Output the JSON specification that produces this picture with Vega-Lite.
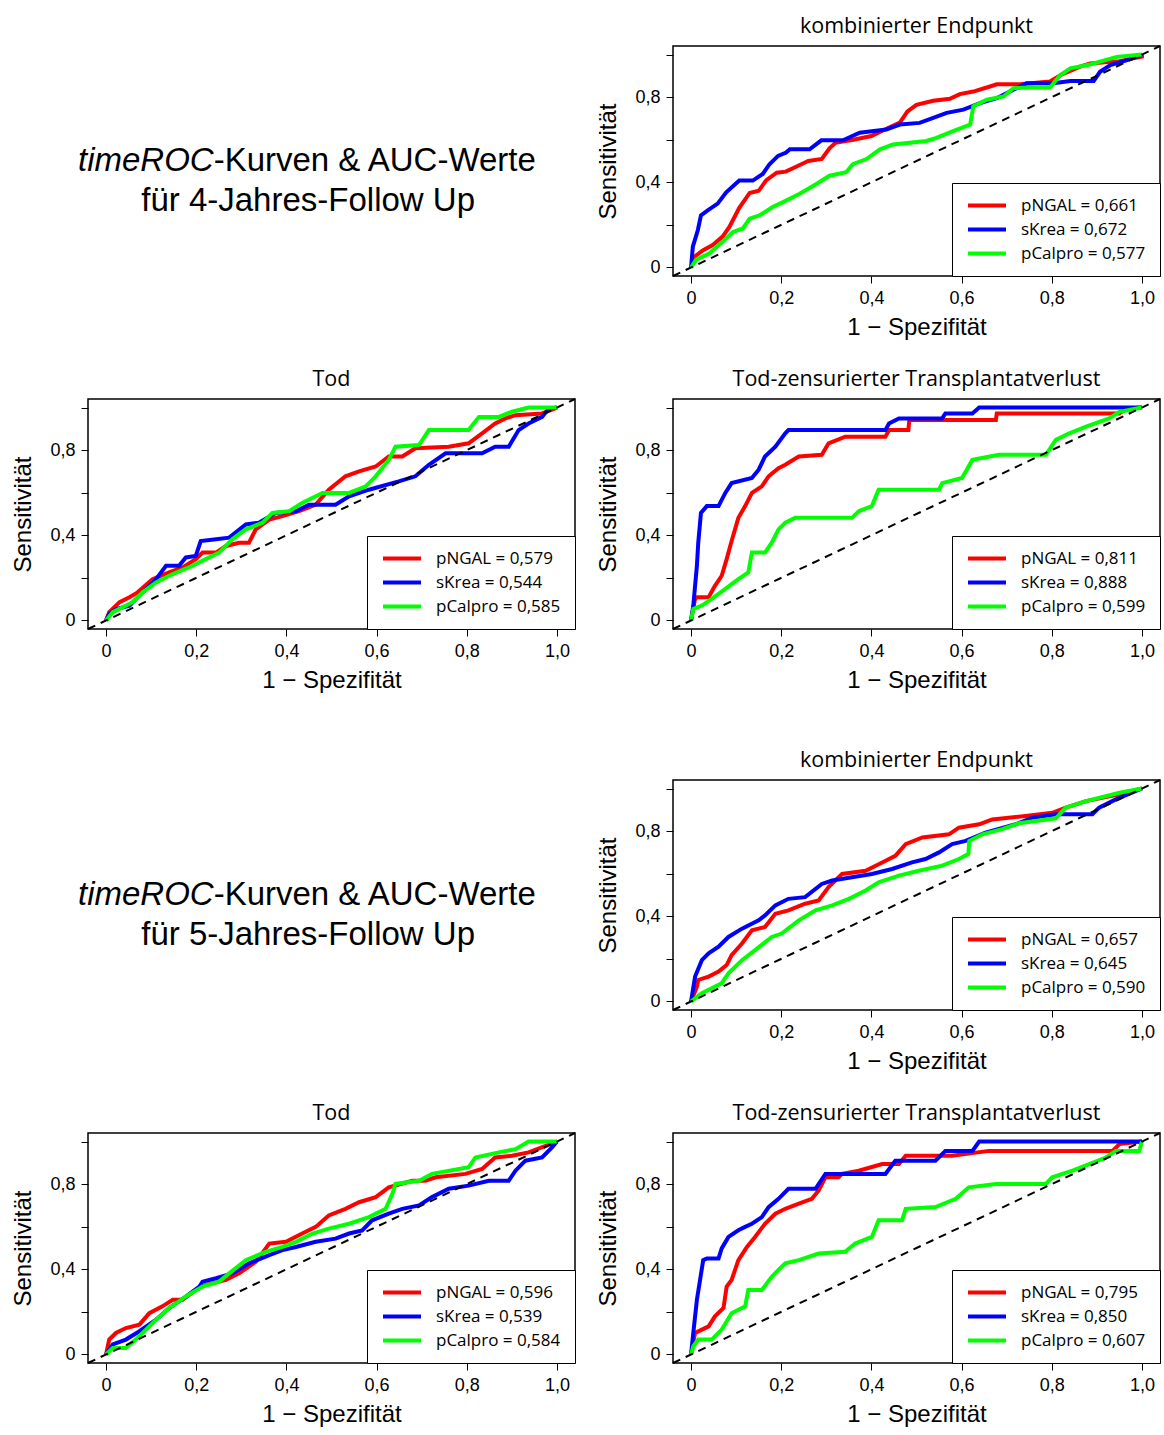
{
"$schema": "https://vega.github.io/schema/vega-lite/v6.json",
"background": "white",
"padding": {"left": 11, "top": 14, "right": 0, "bottom": 0},
"columns": 2,
"spacing": {"row": 27, "column": 19},
"align": "each",
"resolve": {"scale": {"color": "independent", "x": "independent", "y": "independent"}, "legend": {"color": "independent"}},
"config": {
  "view": {"stroke": "black", "strokeWidth": 1.5},
  "axis": {"grid": false, "domain": false, "tickColor": "black", "tickSize": 7, "tickWidth": 1, "labelFont": "Liberation Sans", "labelFontSize": 18, "labelColor": "black", "titleFont": "Liberation Sans", "titleFontSize": 24, "titleFontWeight": "normal", "titleColor": "black", "labelFlush": false, "labelOverlap": false},
  "axisX": {"labelPadding": 6, "titlePadding": 8, "labelAngle": 0},
  "axisY": {"labelPadding": 6, "titlePadding": 14, "labelAngle": 0},
  "legend": {"orient": "bottom-right", "offset": 0, "strokeColor": "black", "fillColor": "white", "padding": 14, "symbolType": "stroke", "symbolSize": 1444, "symbolStrokeWidth": 4, "labelFont": "Open Sans", "labelFontSize": 17, "labelColor": "black", "rowPadding": 6, "labelOffset": 13, "labelLimit": 300, "clipHeight": 17},
  "title": {"font": "Open Sans", "fontSize": 21.5, "fontWeight": "normal", "color": "black", "offset": 8, "anchor": "middle"}
},
"datasets": {
"komb4": [
{"s":"pNGAL = 0,661","x":0,"y":0},{"s":"pNGAL = 0,661","x":0.007,"y":0.05},{"s":"pNGAL = 0,661","x":0.026,"y":0.08},{"s":"pNGAL = 0,661","x":0.048,"y":0.105},{"s":"pNGAL = 0,661","x":0.07,"y":0.145},{"s":"pNGAL = 0,661","x":0.085,"y":0.19},{"s":"pNGAL = 0,661","x":0.107,"y":0.28},{"s":"pNGAL = 0,661","x":0.13,"y":0.35},{"s":"pNGAL = 0,661","x":0.15,"y":0.36},{"s":"pNGAL = 0,661","x":0.167,"y":0.41},{"s":"pNGAL = 0,661","x":0.19,"y":0.445},{"s":"pNGAL = 0,661","x":0.21,"y":0.45},{"s":"pNGAL = 0,661","x":0.24,"y":0.48},{"s":"pNGAL = 0,661","x":0.26,"y":0.5},{"s":"pNGAL = 0,661","x":0.29,"y":0.51},{"s":"pNGAL = 0,661","x":0.307,"y":0.56},{"s":"pNGAL = 0,661","x":0.32,"y":0.585},{"s":"pNGAL = 0,661","x":0.36,"y":0.6},{"s":"pNGAL = 0,661","x":0.4,"y":0.617},{"s":"pNGAL = 0,661","x":0.43,"y":0.648},{"s":"pNGAL = 0,661","x":0.463,"y":0.68},{"s":"pNGAL = 0,661","x":0.48,"y":0.733},{"s":"pNGAL = 0,661","x":0.5,"y":0.764},{"s":"pNGAL = 0,661","x":0.537,"y":0.783},{"s":"pNGAL = 0,661","x":0.574,"y":0.792},{"s":"pNGAL = 0,661","x":0.596,"y":0.814},{"s":"pNGAL = 0,661","x":0.626,"y":0.826},{"s":"pNGAL = 0,661","x":0.663,"y":0.85},{"s":"pNGAL = 0,661","x":0.678,"y":0.86},{"s":"pNGAL = 0,661","x":0.73,"y":0.86},{"s":"pNGAL = 0,661","x":0.796,"y":0.873},{"s":"pNGAL = 0,661","x":0.82,"y":0.904},{"s":"pNGAL = 0,661","x":0.863,"y":0.943},{"s":"pNGAL = 0,661","x":0.885,"y":0.958},{"s":"pNGAL = 0,661","x":0.95,"y":0.969},{"s":"pNGAL = 0,661","x":1,"y":0.99},{"s":"pNGAL = 0,661","x":1,"y":1},
{"s":"sKrea = 0,672","x":0,"y":0},{"s":"sKrea = 0,672","x":0.004,"y":0.098},{"s":"sKrea = 0,672","x":0.015,"y":0.175},{"s":"sKrea = 0,672","x":0.022,"y":0.245},{"s":"sKrea = 0,672","x":0.037,"y":0.268},{"s":"sKrea = 0,672","x":0.059,"y":0.3},{"s":"sKrea = 0,672","x":0.078,"y":0.353},{"s":"sKrea = 0,672","x":0.107,"y":0.408},{"s":"sKrea = 0,672","x":0.137,"y":0.408},{"s":"sKrea = 0,672","x":0.159,"y":0.439},{"s":"sKrea = 0,672","x":0.174,"y":0.485},{"s":"sKrea = 0,672","x":0.193,"y":0.524},{"s":"sKrea = 0,672","x":0.211,"y":0.54},{"s":"sKrea = 0,672","x":0.219,"y":0.555},{"s":"sKrea = 0,672","x":0.263,"y":0.555},{"s":"sKrea = 0,672","x":0.289,"y":0.597},{"s":"sKrea = 0,672","x":0.337,"y":0.597},{"s":"sKrea = 0,672","x":0.374,"y":0.633},{"s":"sKrea = 0,672","x":0.433,"y":0.648},{"s":"sKrea = 0,672","x":0.463,"y":0.671},{"s":"sKrea = 0,672","x":0.507,"y":0.679},{"s":"sKrea = 0,672","x":0.537,"y":0.702},{"s":"sKrea = 0,672","x":0.567,"y":0.726},{"s":"sKrea = 0,672","x":0.604,"y":0.741},{"s":"sKrea = 0,672","x":0.641,"y":0.772},{"s":"sKrea = 0,672","x":0.678,"y":0.795},{"s":"sKrea = 0,672","x":0.707,"y":0.826},{"s":"sKrea = 0,672","x":0.744,"y":0.865},{"s":"sKrea = 0,672","x":0.804,"y":0.865},{"s":"sKrea = 0,672","x":0.841,"y":0.876},{"s":"sKrea = 0,672","x":0.893,"y":0.876},{"s":"sKrea = 0,672","x":0.907,"y":0.919},{"s":"sKrea = 0,672","x":0.93,"y":0.95},{"s":"sKrea = 0,672","x":0.967,"y":0.974},{"s":"sKrea = 0,672","x":1,"y":1},
{"s":"pCalpro = 0,577","x":0,"y":0},{"s":"pCalpro = 0,577","x":0.011,"y":0.036},{"s":"pCalpro = 0,577","x":0.041,"y":0.067},{"s":"pCalpro = 0,577","x":0.07,"y":0.121},{"s":"pCalpro = 0,577","x":0.093,"y":0.167},{"s":"pCalpro = 0,577","x":0.115,"y":0.183},{"s":"pCalpro = 0,577","x":0.13,"y":0.229},{"s":"pCalpro = 0,577","x":0.152,"y":0.245},{"s":"pCalpro = 0,577","x":0.181,"y":0.284},{"s":"pCalpro = 0,577","x":0.204,"y":0.307},{"s":"pCalpro = 0,577","x":0.241,"y":0.346},{"s":"pCalpro = 0,577","x":0.278,"y":0.392},{"s":"pCalpro = 0,577","x":0.307,"y":0.431},{"s":"pCalpro = 0,577","x":0.344,"y":0.447},{"s":"pCalpro = 0,577","x":0.359,"y":0.485},{"s":"pCalpro = 0,577","x":0.389,"y":0.509},{"s":"pCalpro = 0,577","x":0.419,"y":0.555},{"s":"pCalpro = 0,577","x":0.448,"y":0.578},{"s":"pCalpro = 0,577","x":0.485,"y":0.586},{"s":"pCalpro = 0,577","x":0.522,"y":0.594},{"s":"pCalpro = 0,577","x":0.544,"y":0.609},{"s":"pCalpro = 0,577","x":0.581,"y":0.64},{"s":"pCalpro = 0,577","x":0.619,"y":0.671},{"s":"pCalpro = 0,577","x":0.626,"y":0.757},{"s":"pCalpro = 0,577","x":0.656,"y":0.788},{"s":"pCalpro = 0,577","x":0.693,"y":0.803},{"s":"pCalpro = 0,577","x":0.715,"y":0.842},{"s":"pCalpro = 0,577","x":0.752,"y":0.845},{"s":"pCalpro = 0,577","x":0.796,"y":0.845},{"s":"pCalpro = 0,577","x":0.819,"y":0.904},{"s":"pCalpro = 0,577","x":0.841,"y":0.935},{"s":"pCalpro = 0,577","x":0.885,"y":0.953},{"s":"pCalpro = 0,577","x":0.944,"y":0.989},{"s":"pCalpro = 0,577","x":1,"y":1}
],
"tod4": [
{"s":"pNGAL = 0,579","x":0,"y":0},{"s":"pNGAL = 0,579","x":0.007,"y":0.039},{"s":"pNGAL = 0,579","x":0.03,"y":0.086},{"s":"pNGAL = 0,579","x":0.052,"y":0.109},{"s":"pNGAL = 0,579","x":0.07,"y":0.132},{"s":"pNGAL = 0,579","x":0.103,"y":0.194},{"s":"pNGAL = 0,579","x":0.14,"y":0.226},{"s":"pNGAL = 0,579","x":0.17,"y":0.249},{"s":"pNGAL = 0,579","x":0.199,"y":0.288},{"s":"pNGAL = 0,579","x":0.214,"y":0.319},{"s":"pNGAL = 0,579","x":0.244,"y":0.319},{"s":"pNGAL = 0,579","x":0.266,"y":0.35},{"s":"pNGAL = 0,579","x":0.295,"y":0.365},{"s":"pNGAL = 0,579","x":0.317,"y":0.365},{"s":"pNGAL = 0,579","x":0.332,"y":0.428},{"s":"pNGAL = 0,579","x":0.362,"y":0.474},{"s":"pNGAL = 0,579","x":0.391,"y":0.49},{"s":"pNGAL = 0,579","x":0.428,"y":0.513},{"s":"pNGAL = 0,579","x":0.465,"y":0.544},{"s":"pNGAL = 0,579","x":0.494,"y":0.614},{"s":"pNGAL = 0,579","x":0.531,"y":0.677},{"s":"pNGAL = 0,579","x":0.561,"y":0.7},{"s":"pNGAL = 0,579","x":0.598,"y":0.723},{"s":"pNGAL = 0,579","x":0.627,"y":0.77},{"s":"pNGAL = 0,579","x":0.657,"y":0.77},{"s":"pNGAL = 0,579","x":0.686,"y":0.809},{"s":"pNGAL = 0,579","x":0.76,"y":0.816},{"s":"pNGAL = 0,579","x":0.804,"y":0.832},{"s":"pNGAL = 0,579","x":0.834,"y":0.879},{"s":"pNGAL = 0,579","x":0.863,"y":0.925},{"s":"pNGAL = 0,579","x":0.886,"y":0.949},{"s":"pNGAL = 0,579","x":0.908,"y":0.964},{"s":"pNGAL = 0,579","x":0.967,"y":0.972},{"s":"pNGAL = 0,579","x":1,"y":1},
{"s":"sKrea = 0,544","x":0,"y":0},{"s":"sKrea = 0,544","x":0.007,"y":0.031},{"s":"sKrea = 0,544","x":0.022,"y":0.054},{"s":"sKrea = 0,544","x":0.052,"y":0.07},{"s":"sKrea = 0,544","x":0.074,"y":0.117},{"s":"sKrea = 0,544","x":0.111,"y":0.194},{"s":"sKrea = 0,544","x":0.133,"y":0.257},{"s":"sKrea = 0,544","x":0.162,"y":0.257},{"s":"sKrea = 0,544","x":0.177,"y":0.296},{"s":"sKrea = 0,544","x":0.199,"y":0.303},{"s":"sKrea = 0,544","x":0.21,"y":0.373},{"s":"sKrea = 0,544","x":0.244,"y":0.381},{"s":"sKrea = 0,544","x":0.273,"y":0.389},{"s":"sKrea = 0,544","x":0.31,"y":0.451},{"s":"sKrea = 0,544","x":0.339,"y":0.459},{"s":"sKrea = 0,544","x":0.376,"y":0.505},{"s":"sKrea = 0,544","x":0.421,"y":0.513},{"s":"sKrea = 0,544","x":0.45,"y":0.544},{"s":"sKrea = 0,544","x":0.509,"y":0.544},{"s":"sKrea = 0,544","x":0.539,"y":0.583},{"s":"sKrea = 0,544","x":0.583,"y":0.614},{"s":"sKrea = 0,544","x":0.649,"y":0.653},{"s":"sKrea = 0,544","x":0.686,"y":0.677},{"s":"sKrea = 0,544","x":0.716,"y":0.731},{"s":"sKrea = 0,544","x":0.753,"y":0.785},{"s":"sKrea = 0,544","x":0.834,"y":0.785},{"s":"sKrea = 0,544","x":0.863,"y":0.816},{"s":"sKrea = 0,544","x":0.893,"y":0.816},{"s":"sKrea = 0,544","x":0.915,"y":0.894},{"s":"sKrea = 0,544","x":0.937,"y":0.925},{"s":"sKrea = 0,544","x":0.967,"y":0.956},{"s":"sKrea = 0,544","x":0.982,"y":0.995},{"s":"sKrea = 0,544","x":1,"y":1},
{"s":"pCalpro = 0,585","x":0,"y":0},{"s":"pCalpro = 0,585","x":0.015,"y":0.039},{"s":"pCalpro = 0,585","x":0.059,"y":0.086},{"s":"pCalpro = 0,585","x":0.081,"y":0.132},{"s":"pCalpro = 0,585","x":0.111,"y":0.179},{"s":"pCalpro = 0,585","x":0.148,"y":0.218},{"s":"pCalpro = 0,585","x":0.192,"y":0.257},{"s":"pCalpro = 0,585","x":0.221,"y":0.288},{"s":"pCalpro = 0,585","x":0.251,"y":0.319},{"s":"pCalpro = 0,585","x":0.28,"y":0.381},{"s":"pCalpro = 0,585","x":0.31,"y":0.428},{"s":"pCalpro = 0,585","x":0.347,"y":0.459},{"s":"pCalpro = 0,585","x":0.369,"y":0.505},{"s":"pCalpro = 0,585","x":0.406,"y":0.513},{"s":"pCalpro = 0,585","x":0.435,"y":0.552},{"s":"pCalpro = 0,585","x":0.48,"y":0.599},{"s":"pCalpro = 0,585","x":0.539,"y":0.599},{"s":"pCalpro = 0,585","x":0.576,"y":0.63},{"s":"pCalpro = 0,585","x":0.598,"y":0.677},{"s":"pCalpro = 0,585","x":0.627,"y":0.754},{"s":"pCalpro = 0,585","x":0.642,"y":0.816},{"s":"pCalpro = 0,585","x":0.694,"y":0.824},{"s":"pCalpro = 0,585","x":0.716,"y":0.894},{"s":"pCalpro = 0,585","x":0.804,"y":0.894},{"s":"pCalpro = 0,585","x":0.827,"y":0.956},{"s":"pCalpro = 0,585","x":0.871,"y":0.956},{"s":"pCalpro = 0,585","x":0.9,"y":0.98},{"s":"pCalpro = 0,585","x":0.937,"y":1},{"s":"pCalpro = 0,585","x":1,"y":1}
],
"tz4": [
{"s":"pNGAL = 0,811","x":0,"y":0},{"s":"pNGAL = 0,811","x":0.009,"y":0.101},{"s":"pNGAL = 0,811","x":0.013,"y":0.109},{"s":"pNGAL = 0,811","x":0.039,"y":0.109},{"s":"pNGAL = 0,811","x":0.053,"y":0.163},{"s":"pNGAL = 0,811","x":0.068,"y":0.21},{"s":"pNGAL = 0,811","x":0.079,"y":0.288},{"s":"pNGAL = 0,811","x":0.09,"y":0.373},{"s":"pNGAL = 0,811","x":0.105,"y":0.482},{"s":"pNGAL = 0,811","x":0.12,"y":0.537},{"s":"pNGAL = 0,811","x":0.135,"y":0.599},{"s":"pNGAL = 0,811","x":0.157,"y":0.63},{"s":"pNGAL = 0,811","x":0.172,"y":0.677},{"s":"pNGAL = 0,811","x":0.194,"y":0.715},{"s":"pNGAL = 0,811","x":0.209,"y":0.731},{"s":"pNGAL = 0,811","x":0.239,"y":0.77},{"s":"pNGAL = 0,811","x":0.29,"y":0.778},{"s":"pNGAL = 0,811","x":0.305,"y":0.832},{"s":"pNGAL = 0,811","x":0.342,"y":0.863},{"s":"pNGAL = 0,811","x":0.431,"y":0.863},{"s":"pNGAL = 0,811","x":0.439,"y":0.894},{"s":"pNGAL = 0,811","x":0.482,"y":0.894},{"s":"pNGAL = 0,811","x":0.484,"y":0.941},{"s":"pNGAL = 0,811","x":0.676,"y":0.941},{"s":"pNGAL = 0,811","x":0.678,"y":0.972},{"s":"pNGAL = 0,811","x":0.95,"y":0.972},{"s":"pNGAL = 0,811","x":0.964,"y":0.995},{"s":"pNGAL = 0,811","x":1,"y":1},
{"s":"sKrea = 0,888","x":0,"y":0},{"s":"sKrea = 0,888","x":0.005,"y":0.07},{"s":"sKrea = 0,888","x":0.013,"y":0.257},{"s":"sKrea = 0,888","x":0.016,"y":0.365},{"s":"sKrea = 0,888","x":0.022,"y":0.505},{"s":"sKrea = 0,888","x":0.035,"y":0.537},{"s":"sKrea = 0,888","x":0.061,"y":0.537},{"s":"sKrea = 0,888","x":0.076,"y":0.599},{"s":"sKrea = 0,888","x":0.09,"y":0.645},{"s":"sKrea = 0,888","x":0.135,"y":0.669},{"s":"sKrea = 0,888","x":0.15,"y":0.708},{"s":"sKrea = 0,888","x":0.164,"y":0.77},{"s":"sKrea = 0,888","x":0.187,"y":0.816},{"s":"sKrea = 0,888","x":0.209,"y":0.879},{"s":"sKrea = 0,888","x":0.216,"y":0.894},{"s":"sKrea = 0,888","x":0.431,"y":0.894},{"s":"sKrea = 0,888","x":0.439,"y":0.925},{"s":"sKrea = 0,888","x":0.461,"y":0.949},{"s":"sKrea = 0,888","x":0.557,"y":0.949},{"s":"sKrea = 0,888","x":0.564,"y":0.972},{"s":"sKrea = 0,888","x":0.624,"y":0.972},{"s":"sKrea = 0,888","x":0.639,"y":1},{"s":"sKrea = 0,888","x":1,"y":1},
{"s":"pCalpro = 0,599","x":0,"y":0},{"s":"pCalpro = 0,599","x":0.005,"y":0.054},{"s":"pCalpro = 0,599","x":0.024,"y":0.07},{"s":"pCalpro = 0,599","x":0.046,"y":0.101},{"s":"pCalpro = 0,599","x":0.076,"y":0.148},{"s":"pCalpro = 0,599","x":0.105,"y":0.194},{"s":"pCalpro = 0,599","x":0.127,"y":0.226},{"s":"pCalpro = 0,599","x":0.135,"y":0.319},{"s":"pCalpro = 0,599","x":0.164,"y":0.319},{"s":"pCalpro = 0,599","x":0.179,"y":0.365},{"s":"pCalpro = 0,599","x":0.194,"y":0.428},{"s":"pCalpro = 0,599","x":0.209,"y":0.459},{"s":"pCalpro = 0,599","x":0.231,"y":0.482},{"s":"pCalpro = 0,599","x":0.357,"y":0.482},{"s":"pCalpro = 0,599","x":0.372,"y":0.513},{"s":"pCalpro = 0,599","x":0.401,"y":0.537},{"s":"pCalpro = 0,599","x":0.416,"y":0.614},{"s":"pCalpro = 0,599","x":0.55,"y":0.614},{"s":"pCalpro = 0,599","x":0.557,"y":0.645},{"s":"pCalpro = 0,599","x":0.601,"y":0.669},{"s":"pCalpro = 0,599","x":0.624,"y":0.754},{"s":"pCalpro = 0,599","x":0.683,"y":0.778},{"s":"pCalpro = 0,599","x":0.787,"y":0.778},{"s":"pCalpro = 0,599","x":0.809,"y":0.848},{"s":"pCalpro = 0,599","x":0.839,"y":0.879},{"s":"pCalpro = 0,599","x":0.876,"y":0.91},{"s":"pCalpro = 0,599","x":0.927,"y":0.949},{"s":"pCalpro = 0,599","x":0.95,"y":0.98},{"s":"pCalpro = 0,599","x":1,"y":1}
],
"komb5": [
{"s":"pNGAL = 0,657","x":0,"y":0},{"s":"pNGAL = 0,657","x":0.013,"y":0.07},{"s":"pNGAL = 0,657","x":0.016,"y":0.101},{"s":"pNGAL = 0,657","x":0.039,"y":0.117},{"s":"pNGAL = 0,657","x":0.061,"y":0.14},{"s":"pNGAL = 0,657","x":0.079,"y":0.171},{"s":"pNGAL = 0,657","x":0.09,"y":0.218},{"s":"pNGAL = 0,657","x":0.113,"y":0.272},{"s":"pNGAL = 0,657","x":0.135,"y":0.334},{"s":"pNGAL = 0,657","x":0.164,"y":0.35},{"s":"pNGAL = 0,657","x":0.187,"y":0.412},{"s":"pNGAL = 0,657","x":0.216,"y":0.428},{"s":"pNGAL = 0,657","x":0.253,"y":0.459},{"s":"pNGAL = 0,657","x":0.283,"y":0.474},{"s":"pNGAL = 0,657","x":0.305,"y":0.537},{"s":"pNGAL = 0,657","x":0.335,"y":0.599},{"s":"pNGAL = 0,657","x":0.387,"y":0.614},{"s":"pNGAL = 0,657","x":0.424,"y":0.653},{"s":"pNGAL = 0,657","x":0.453,"y":0.684},{"s":"pNGAL = 0,657","x":0.476,"y":0.739},{"s":"pNGAL = 0,657","x":0.513,"y":0.77},{"s":"pNGAL = 0,657","x":0.572,"y":0.785},{"s":"pNGAL = 0,657","x":0.594,"y":0.816},{"s":"pNGAL = 0,657","x":0.639,"y":0.832},{"s":"pNGAL = 0,657","x":0.668,"y":0.855},{"s":"pNGAL = 0,657","x":0.742,"y":0.871},{"s":"pNGAL = 0,657","x":0.801,"y":0.886},{"s":"pNGAL = 0,657","x":0.831,"y":0.91},{"s":"pNGAL = 0,657","x":0.876,"y":0.941},{"s":"pNGAL = 0,657","x":0.942,"y":0.969},{"s":"pNGAL = 0,657","x":1,"y":1},
{"s":"sKrea = 0,645","x":0,"y":0},{"s":"sKrea = 0,645","x":0.009,"y":0.117},{"s":"sKrea = 0,645","x":0.024,"y":0.194},{"s":"sKrea = 0,645","x":0.039,"y":0.226},{"s":"sKrea = 0,645","x":0.061,"y":0.257},{"s":"sKrea = 0,645","x":0.083,"y":0.303},{"s":"sKrea = 0,645","x":0.113,"y":0.342},{"s":"sKrea = 0,645","x":0.15,"y":0.381},{"s":"sKrea = 0,645","x":0.164,"y":0.404},{"s":"sKrea = 0,645","x":0.187,"y":0.451},{"s":"sKrea = 0,645","x":0.216,"y":0.482},{"s":"sKrea = 0,645","x":0.253,"y":0.49},{"s":"sKrea = 0,645","x":0.29,"y":0.552},{"s":"sKrea = 0,645","x":0.313,"y":0.568},{"s":"sKrea = 0,645","x":0.357,"y":0.583},{"s":"sKrea = 0,645","x":0.401,"y":0.599},{"s":"sKrea = 0,645","x":0.446,"y":0.622},{"s":"sKrea = 0,645","x":0.49,"y":0.653},{"s":"sKrea = 0,645","x":0.52,"y":0.669},{"s":"sKrea = 0,645","x":0.55,"y":0.7},{"s":"sKrea = 0,645","x":0.579,"y":0.739},{"s":"sKrea = 0,645","x":0.609,"y":0.754},{"s":"sKrea = 0,645","x":0.653,"y":0.793},{"s":"sKrea = 0,645","x":0.72,"y":0.832},{"s":"sKrea = 0,645","x":0.757,"y":0.863},{"s":"sKrea = 0,645","x":0.809,"y":0.879},{"s":"sKrea = 0,645","x":0.89,"y":0.879},{"s":"sKrea = 0,645","x":0.905,"y":0.91},{"s":"sKrea = 0,645","x":0.942,"y":0.949},{"s":"sKrea = 0,645","x":1,"y":1},
{"s":"pCalpro = 0,590","x":0,"y":0},{"s":"pCalpro = 0,590","x":0.024,"y":0.039},{"s":"pCalpro = 0,590","x":0.068,"y":0.086},{"s":"pCalpro = 0,590","x":0.083,"y":0.132},{"s":"pCalpro = 0,590","x":0.113,"y":0.194},{"s":"pCalpro = 0,590","x":0.142,"y":0.241},{"s":"pCalpro = 0,590","x":0.179,"y":0.303},{"s":"pCalpro = 0,590","x":0.201,"y":0.319},{"s":"pCalpro = 0,590","x":0.239,"y":0.381},{"s":"pCalpro = 0,590","x":0.276,"y":0.428},{"s":"pCalpro = 0,590","x":0.313,"y":0.451},{"s":"pCalpro = 0,590","x":0.35,"y":0.482},{"s":"pCalpro = 0,590","x":0.387,"y":0.521},{"s":"pCalpro = 0,590","x":0.416,"y":0.56},{"s":"pCalpro = 0,590","x":0.461,"y":0.591},{"s":"pCalpro = 0,590","x":0.505,"y":0.614},{"s":"pCalpro = 0,590","x":0.557,"y":0.638},{"s":"pCalpro = 0,590","x":0.594,"y":0.669},{"s":"pCalpro = 0,590","x":0.615,"y":0.692},{"s":"pCalpro = 0,590","x":0.617,"y":0.754},{"s":"pCalpro = 0,590","x":0.646,"y":0.785},{"s":"pCalpro = 0,590","x":0.69,"y":0.809},{"s":"pCalpro = 0,590","x":0.727,"y":0.837},{"s":"pCalpro = 0,590","x":0.809,"y":0.86},{"s":"pCalpro = 0,590","x":0.831,"y":0.91},{"s":"pCalpro = 0,590","x":0.876,"y":0.941},{"s":"pCalpro = 0,590","x":0.95,"y":0.98},{"s":"pCalpro = 0,590","x":1,"y":1}
],
"tod5": [
{"s":"pNGAL = 0,596","x":0,"y":0},{"s":"pNGAL = 0,596","x":0.007,"y":0.07},{"s":"pNGAL = 0,596","x":0.022,"y":0.101},{"s":"pNGAL = 0,596","x":0.044,"y":0.124},{"s":"pNGAL = 0,596","x":0.074,"y":0.14},{"s":"pNGAL = 0,596","x":0.096,"y":0.194},{"s":"pNGAL = 0,596","x":0.125,"y":0.226},{"s":"pNGAL = 0,596","x":0.148,"y":0.257},{"s":"pNGAL = 0,596","x":0.17,"y":0.257},{"s":"pNGAL = 0,596","x":0.199,"y":0.303},{"s":"pNGAL = 0,596","x":0.221,"y":0.327},{"s":"pNGAL = 0,596","x":0.266,"y":0.35},{"s":"pNGAL = 0,596","x":0.295,"y":0.381},{"s":"pNGAL = 0,596","x":0.332,"y":0.435},{"s":"pNGAL = 0,596","x":0.362,"y":0.521},{"s":"pNGAL = 0,596","x":0.399,"y":0.529},{"s":"pNGAL = 0,596","x":0.435,"y":0.568},{"s":"pNGAL = 0,596","x":0.465,"y":0.599},{"s":"pNGAL = 0,596","x":0.494,"y":0.653},{"s":"pNGAL = 0,596","x":0.531,"y":0.684},{"s":"pNGAL = 0,596","x":0.561,"y":0.715},{"s":"pNGAL = 0,596","x":0.598,"y":0.739},{"s":"pNGAL = 0,596","x":0.627,"y":0.785},{"s":"pNGAL = 0,596","x":0.679,"y":0.816},{"s":"pNGAL = 0,596","x":0.708,"y":0.816},{"s":"pNGAL = 0,596","x":0.731,"y":0.832},{"s":"pNGAL = 0,596","x":0.797,"y":0.848},{"s":"pNGAL = 0,596","x":0.834,"y":0.871},{"s":"pNGAL = 0,596","x":0.863,"y":0.925},{"s":"pNGAL = 0,596","x":0.9,"y":0.933},{"s":"pNGAL = 0,596","x":0.937,"y":0.949},{"s":"pNGAL = 0,596","x":1,"y":1},
{"s":"sKrea = 0,539","x":0,"y":0},{"s":"sKrea = 0,539","x":0.015,"y":0.047},{"s":"sKrea = 0,539","x":0.044,"y":0.07},{"s":"sKrea = 0,539","x":0.074,"y":0.109},{"s":"sKrea = 0,539","x":0.111,"y":0.163},{"s":"sKrea = 0,539","x":0.14,"y":0.218},{"s":"sKrea = 0,539","x":0.177,"y":0.272},{"s":"sKrea = 0,539","x":0.207,"y":0.319},{"s":"sKrea = 0,539","x":0.214,"y":0.342},{"s":"sKrea = 0,539","x":0.244,"y":0.358},{"s":"sKrea = 0,539","x":0.28,"y":0.381},{"s":"sKrea = 0,539","x":0.317,"y":0.428},{"s":"sKrea = 0,539","x":0.362,"y":0.467},{"s":"sKrea = 0,539","x":0.391,"y":0.49},{"s":"sKrea = 0,539","x":0.421,"y":0.505},{"s":"sKrea = 0,539","x":0.465,"y":0.529},{"s":"sKrea = 0,539","x":0.509,"y":0.544},{"s":"sKrea = 0,539","x":0.539,"y":0.568},{"s":"sKrea = 0,539","x":0.568,"y":0.583},{"s":"sKrea = 0,539","x":0.59,"y":0.63},{"s":"sKrea = 0,539","x":0.627,"y":0.661},{"s":"sKrea = 0,539","x":0.657,"y":0.684},{"s":"sKrea = 0,539","x":0.694,"y":0.7},{"s":"sKrea = 0,539","x":0.723,"y":0.739},{"s":"sKrea = 0,539","x":0.76,"y":0.778},{"s":"sKrea = 0,539","x":0.804,"y":0.793},{"s":"sKrea = 0,539","x":0.849,"y":0.816},{"s":"sKrea = 0,539","x":0.893,"y":0.816},{"s":"sKrea = 0,539","x":0.908,"y":0.863},{"s":"sKrea = 0,539","x":0.93,"y":0.91},{"s":"sKrea = 0,539","x":0.967,"y":0.925},{"s":"sKrea = 0,539","x":0.989,"y":0.972},{"s":"sKrea = 0,539","x":1,"y":1},
{"s":"pCalpro = 0,584","x":0,"y":0},{"s":"pCalpro = 0,584","x":0.015,"y":0.031},{"s":"pCalpro = 0,584","x":0.044,"y":0.031},{"s":"pCalpro = 0,584","x":0.074,"y":0.086},{"s":"pCalpro = 0,584","x":0.111,"y":0.163},{"s":"pCalpro = 0,584","x":0.14,"y":0.218},{"s":"pCalpro = 0,584","x":0.177,"y":0.272},{"s":"pCalpro = 0,584","x":0.214,"y":0.319},{"s":"pCalpro = 0,584","x":0.251,"y":0.342},{"s":"pCalpro = 0,584","x":0.273,"y":0.381},{"s":"pCalpro = 0,584","x":0.31,"y":0.443},{"s":"pCalpro = 0,584","x":0.354,"y":0.482},{"s":"pCalpro = 0,584","x":0.391,"y":0.505},{"s":"pCalpro = 0,584","x":0.421,"y":0.529},{"s":"pCalpro = 0,584","x":0.458,"y":0.568},{"s":"pCalpro = 0,584","x":0.494,"y":0.591},{"s":"pCalpro = 0,584","x":0.539,"y":0.614},{"s":"pCalpro = 0,584","x":0.583,"y":0.645},{"s":"pCalpro = 0,584","x":0.62,"y":0.684},{"s":"pCalpro = 0,584","x":0.635,"y":0.754},{"s":"pCalpro = 0,584","x":0.642,"y":0.801},{"s":"pCalpro = 0,584","x":0.694,"y":0.816},{"s":"pCalpro = 0,584","x":0.723,"y":0.848},{"s":"pCalpro = 0,584","x":0.804,"y":0.879},{"s":"pCalpro = 0,584","x":0.819,"y":0.925},{"s":"pCalpro = 0,584","x":0.871,"y":0.949},{"s":"pCalpro = 0,584","x":0.908,"y":0.964},{"s":"pCalpro = 0,584","x":0.937,"y":1},{"s":"pCalpro = 0,584","x":1,"y":1}
],
"tz5": [
{"s":"pNGAL = 0,795","x":0,"y":0},{"s":"pNGAL = 0,795","x":0.009,"y":0.101},{"s":"pNGAL = 0,795","x":0.039,"y":0.132},{"s":"pNGAL = 0,795","x":0.053,"y":0.179},{"s":"pNGAL = 0,795","x":0.072,"y":0.218},{"s":"pNGAL = 0,795","x":0.079,"y":0.319},{"s":"pNGAL = 0,795","x":0.09,"y":0.35},{"s":"pNGAL = 0,795","x":0.105,"y":0.443},{"s":"pNGAL = 0,795","x":0.124,"y":0.505},{"s":"pNGAL = 0,795","x":0.142,"y":0.552},{"s":"pNGAL = 0,795","x":0.164,"y":0.614},{"s":"pNGAL = 0,795","x":0.187,"y":0.661},{"s":"pNGAL = 0,795","x":0.209,"y":0.684},{"s":"pNGAL = 0,795","x":0.239,"y":0.708},{"s":"pNGAL = 0,795","x":0.268,"y":0.731},{"s":"pNGAL = 0,795","x":0.283,"y":0.77},{"s":"pNGAL = 0,795","x":0.298,"y":0.832},{"s":"pNGAL = 0,795","x":0.327,"y":0.832},{"s":"pNGAL = 0,795","x":0.335,"y":0.848},{"s":"pNGAL = 0,795","x":0.372,"y":0.863},{"s":"pNGAL = 0,795","x":0.424,"y":0.894},{"s":"pNGAL = 0,795","x":0.461,"y":0.894},{"s":"pNGAL = 0,795","x":0.476,"y":0.933},{"s":"pNGAL = 0,795","x":0.579,"y":0.933},{"s":"pNGAL = 0,795","x":0.661,"y":0.956},{"s":"pNGAL = 0,795","x":0.935,"y":0.956},{"s":"pNGAL = 0,795","x":0.95,"y":0.988},{"s":"pNGAL = 0,795","x":1,"y":1},
{"s":"sKrea = 0,850","x":0,"y":0},{"s":"sKrea = 0,850","x":0.005,"y":0.101},{"s":"sKrea = 0,850","x":0.013,"y":0.257},{"s":"sKrea = 0,850","x":0.02,"y":0.35},{"s":"sKrea = 0,850","x":0.027,"y":0.443},{"s":"sKrea = 0,850","x":0.035,"y":0.451},{"s":"sKrea = 0,850","x":0.061,"y":0.451},{"s":"sKrea = 0,850","x":0.068,"y":0.498},{"s":"sKrea = 0,850","x":0.083,"y":0.552},{"s":"sKrea = 0,850","x":0.105,"y":0.583},{"s":"sKrea = 0,850","x":0.12,"y":0.599},{"s":"sKrea = 0,850","x":0.135,"y":0.614},{"s":"sKrea = 0,850","x":0.157,"y":0.645},{"s":"sKrea = 0,850","x":0.172,"y":0.692},{"s":"sKrea = 0,850","x":0.194,"y":0.731},{"s":"sKrea = 0,850","x":0.216,"y":0.778},{"s":"sKrea = 0,850","x":0.276,"y":0.778},{"s":"sKrea = 0,850","x":0.298,"y":0.848},{"s":"sKrea = 0,850","x":0.431,"y":0.848},{"s":"sKrea = 0,850","x":0.453,"y":0.91},{"s":"sKrea = 0,850","x":0.542,"y":0.91},{"s":"sKrea = 0,850","x":0.564,"y":0.956},{"s":"sKrea = 0,850","x":0.624,"y":0.956},{"s":"sKrea = 0,850","x":0.639,"y":1},{"s":"sKrea = 0,850","x":1,"y":1},
{"s":"pCalpro = 0,607","x":0,"y":0},{"s":"pCalpro = 0,607","x":0.005,"y":0.039},{"s":"pCalpro = 0,607","x":0.016,"y":0.07},{"s":"pCalpro = 0,607","x":0.046,"y":0.07},{"s":"pCalpro = 0,607","x":0.068,"y":0.117},{"s":"pCalpro = 0,607","x":0.09,"y":0.194},{"s":"pCalpro = 0,607","x":0.12,"y":0.226},{"s":"pCalpro = 0,607","x":0.127,"y":0.303},{"s":"pCalpro = 0,607","x":0.157,"y":0.303},{"s":"pCalpro = 0,607","x":0.179,"y":0.365},{"s":"pCalpro = 0,607","x":0.194,"y":0.397},{"s":"pCalpro = 0,607","x":0.209,"y":0.428},{"s":"pCalpro = 0,607","x":0.239,"y":0.443},{"s":"pCalpro = 0,607","x":0.283,"y":0.474},{"s":"pCalpro = 0,607","x":0.342,"y":0.482},{"s":"pCalpro = 0,607","x":0.364,"y":0.521},{"s":"pCalpro = 0,607","x":0.401,"y":0.552},{"s":"pCalpro = 0,607","x":0.416,"y":0.63},{"s":"pCalpro = 0,607","x":0.468,"y":0.63},{"s":"pCalpro = 0,607","x":0.476,"y":0.684},{"s":"pCalpro = 0,607","x":0.542,"y":0.692},{"s":"pCalpro = 0,607","x":0.587,"y":0.731},{"s":"pCalpro = 0,607","x":0.616,"y":0.785},{"s":"pCalpro = 0,607","x":0.676,"y":0.801},{"s":"pCalpro = 0,607","x":0.787,"y":0.801},{"s":"pCalpro = 0,607","x":0.801,"y":0.832},{"s":"pCalpro = 0,607","x":0.846,"y":0.863},{"s":"pCalpro = 0,607","x":0.883,"y":0.894},{"s":"pCalpro = 0,607","x":0.92,"y":0.925},{"s":"pCalpro = 0,607","x":0.942,"y":0.956},{"s":"pCalpro = 0,607","x":0.994,"y":0.956},{"s":"pCalpro = 0,607","x":1,"y":1}
]
},
"concat": [
{
  "width": 487, "height": 230,
  "view": {"stroke": null},
  "data": {"values": [{}]},
  "layer": [
    {"mark": {"type": "text", "text": "timeROC", "font": "Liberation Sans", "fontSize": 33, "fontStyle": "italic", "align": "right", "baseline": "middle", "color": "black"},
     "encoding": {"x": {"datum": 0.258, "type": "quantitative", "scale": {"domain": [0, 1]}, "axis": null}, "y": {"datum": 0.5, "type": "quantitative", "scale": {"domain": [0, 1]}, "axis": null}}},
    {"mark": {"type": "text", "text": "-Kurven & AUC-Werte", "font": "Liberation Sans", "fontSize": 33, "align": "left", "baseline": "middle", "color": "black"},
     "encoding": {"x": {"datum": 0.258, "type": "quantitative"}, "y": {"datum": 0.5, "type": "quantitative"}}},
    {"mark": {"type": "text", "text": "für 4-Jahres-Follow Up", "font": "Liberation Sans", "fontSize": 33, "align": "center", "baseline": "middle", "color": "black"},
     "encoding": {"x": {"datum": 0.452, "type": "quantitative"}, "y": {"datum": 0.326, "type": "quantitative"}}}
  ]
},
{
  "title": "kombinierter Endpunkt",
  "width": 487, "height": 230,
  "layer": [
    {"data": {"name": "komb4"},
     "mark": {"type": "line", "strokeWidth": 4},
     "encoding": {
       "x": {"field": "x", "type": "quantitative", "scale": {"domain": [-0.04, 1.04], "nice": false, "zero": false}, "axis": {"title": "1 − Spezifität", "values": [0, 0.2, 0.4, 0.6, 0.8, 1], "labelExpr": "datum.value == 0 ? '0' : replace(format(datum.value, '.1f'), '.', ',')"}},
       "y": {"field": "y", "type": "quantitative", "scale": {"domain": [-0.04, 1.04], "nice": false, "zero": false}, "axis": {"title": "Sensitivität", "values": [0, 0.2, 0.4, 0.6, 0.8, 1], "labelExpr": "datum.value == 0 ? '0' : (datum.value == 0.4 || datum.value == 0.8) ? replace(format(datum.value, '.1f'), '.', ',') : ''"}},
       "color": {"field": "s", "type": "nominal", "scale": {"domain": ["pNGAL = 0,661", "sKrea = 0,672", "pCalpro = 0,577"], "range": ["#ff0000", "#0000ff", "#00ff00"]}, "legend": {"title": null}},
       "order": {"value": null}
     }},
    {"data": {"values": [{}]},
     "mark": {"type": "rule", "strokeDash": [8, 6], "strokeWidth": 2, "color": "black"},
     "encoding": {"x": {"datum": -0.04, "type": "quantitative"}, "y": {"datum": -0.04, "type": "quantitative"}, "x2": {"datum": 1.04}, "y2": {"datum": 1.04}}}
  ]
},
{
  "title": "Tod",
  "width": 487, "height": 230,
  "layer": [
    {"data": {"name": "tod4"},
     "mark": {"type": "line", "strokeWidth": 4},
     "encoding": {
       "x": {"field": "x", "type": "quantitative", "scale": {"domain": [-0.04, 1.04], "nice": false, "zero": false}, "axis": {"title": "1 − Spezifität", "values": [0, 0.2, 0.4, 0.6, 0.8, 1], "labelExpr": "datum.value == 0 ? '0' : replace(format(datum.value, '.1f'), '.', ',')"}},
       "y": {"field": "y", "type": "quantitative", "scale": {"domain": [-0.04, 1.04], "nice": false, "zero": false}, "axis": {"title": "Sensitivität", "values": [0, 0.2, 0.4, 0.6, 0.8, 1], "labelExpr": "datum.value == 0 ? '0' : (datum.value == 0.4 || datum.value == 0.8) ? replace(format(datum.value, '.1f'), '.', ',') : ''"}},
       "color": {"field": "s", "type": "nominal", "scale": {"domain": ["pNGAL = 0,579", "sKrea = 0,544", "pCalpro = 0,585"], "range": ["#ff0000", "#0000ff", "#00ff00"]}, "legend": {"title": null}},
       "order": {"value": null}
     }},
    {"data": {"values": [{}]},
     "mark": {"type": "rule", "strokeDash": [8, 6], "strokeWidth": 2, "color": "black"},
     "encoding": {"x": {"datum": -0.04, "type": "quantitative"}, "y": {"datum": -0.04, "type": "quantitative"}, "x2": {"datum": 1.04}, "y2": {"datum": 1.04}}}
  ]
},
{
  "title": "Tod-zensurierter Transplantatverlust",
  "width": 487, "height": 230,
  "layer": [
    {"data": {"name": "tz4"},
     "mark": {"type": "line", "strokeWidth": 4},
     "encoding": {
       "x": {"field": "x", "type": "quantitative", "scale": {"domain": [-0.04, 1.04], "nice": false, "zero": false}, "axis": {"title": "1 − Spezifität", "values": [0, 0.2, 0.4, 0.6, 0.8, 1], "labelExpr": "datum.value == 0 ? '0' : replace(format(datum.value, '.1f'), '.', ',')"}},
       "y": {"field": "y", "type": "quantitative", "scale": {"domain": [-0.04, 1.04], "nice": false, "zero": false}, "axis": {"title": "Sensitivität", "values": [0, 0.2, 0.4, 0.6, 0.8, 1], "labelExpr": "datum.value == 0 ? '0' : (datum.value == 0.4 || datum.value == 0.8) ? replace(format(datum.value, '.1f'), '.', ',') : ''"}},
       "color": {"field": "s", "type": "nominal", "scale": {"domain": ["pNGAL = 0,811", "sKrea = 0,888", "pCalpro = 0,599"], "range": ["#ff0000", "#0000ff", "#00ff00"]}, "legend": {"title": null}},
       "order": {"value": null}
     }},
    {"data": {"values": [{}]},
     "mark": {"type": "rule", "strokeDash": [8, 6], "strokeWidth": 2, "color": "black"},
     "encoding": {"x": {"datum": -0.04, "type": "quantitative"}, "y": {"datum": -0.04, "type": "quantitative"}, "x2": {"datum": 1.04}, "y2": {"datum": 1.04}}}
  ]
},
{
  "title": {"text": "x", "color": "transparent", "offset": 38},
  "width": 487, "height": 230,
  "view": {"stroke": null},
  "data": {"values": [{}]},
  "layer": [
    {"mark": {"type": "text", "text": "timeROC", "font": "Liberation Sans", "fontSize": 33, "fontStyle": "italic", "align": "right", "baseline": "middle", "color": "black"},
     "encoding": {"x": {"datum": 0.258, "type": "quantitative", "scale": {"domain": [0, 1]}, "axis": null}, "y": {"datum": 0.5, "type": "quantitative", "scale": {"domain": [0, 1]}, "axis": null}}},
    {"mark": {"type": "text", "text": "-Kurven & AUC-Werte", "font": "Liberation Sans", "fontSize": 33, "align": "left", "baseline": "middle", "color": "black"},
     "encoding": {"x": {"datum": 0.258, "type": "quantitative"}, "y": {"datum": 0.5, "type": "quantitative"}}},
    {"mark": {"type": "text", "text": "für 5-Jahres-Follow Up", "font": "Liberation Sans", "fontSize": 33, "align": "center", "baseline": "middle", "color": "black"},
     "encoding": {"x": {"datum": 0.452, "type": "quantitative"}, "y": {"datum": 0.326, "type": "quantitative"}}}
  ]
},
{
  "title": "kombinierter Endpunkt",
  "width": 487, "height": 230,
  "layer": [
    {"data": {"name": "komb5"},
     "mark": {"type": "line", "strokeWidth": 4},
     "encoding": {
       "x": {"field": "x", "type": "quantitative", "scale": {"domain": [-0.04, 1.04], "nice": false, "zero": false}, "axis": {"title": "1 − Spezifität", "values": [0, 0.2, 0.4, 0.6, 0.8, 1], "labelExpr": "datum.value == 0 ? '0' : replace(format(datum.value, '.1f'), '.', ',')"}},
       "y": {"field": "y", "type": "quantitative", "scale": {"domain": [-0.04, 1.04], "nice": false, "zero": false}, "axis": {"title": "Sensitivität", "values": [0, 0.2, 0.4, 0.6, 0.8, 1], "labelExpr": "datum.value == 0 ? '0' : (datum.value == 0.4 || datum.value == 0.8) ? replace(format(datum.value, '.1f'), '.', ',') : ''"}},
       "color": {"field": "s", "type": "nominal", "scale": {"domain": ["pNGAL = 0,657", "sKrea = 0,645", "pCalpro = 0,590"], "range": ["#ff0000", "#0000ff", "#00ff00"]}, "legend": {"title": null}},
       "order": {"value": null}
     }},
    {"data": {"values": [{}]},
     "mark": {"type": "rule", "strokeDash": [8, 6], "strokeWidth": 2, "color": "black"},
     "encoding": {"x": {"datum": -0.04, "type": "quantitative"}, "y": {"datum": -0.04, "type": "quantitative"}, "x2": {"datum": 1.04}, "y2": {"datum": 1.04}}}
  ]
},
{
  "title": "Tod",
  "width": 487, "height": 230,
  "layer": [
    {"data": {"name": "tod5"},
     "mark": {"type": "line", "strokeWidth": 4},
     "encoding": {
       "x": {"field": "x", "type": "quantitative", "scale": {"domain": [-0.04, 1.04], "nice": false, "zero": false}, "axis": {"title": "1 − Spezifität", "values": [0, 0.2, 0.4, 0.6, 0.8, 1], "labelExpr": "datum.value == 0 ? '0' : replace(format(datum.value, '.1f'), '.', ',')"}},
       "y": {"field": "y", "type": "quantitative", "scale": {"domain": [-0.04, 1.04], "nice": false, "zero": false}, "axis": {"title": "Sensitivität", "values": [0, 0.2, 0.4, 0.6, 0.8, 1], "labelExpr": "datum.value == 0 ? '0' : (datum.value == 0.4 || datum.value == 0.8) ? replace(format(datum.value, '.1f'), '.', ',') : ''"}},
       "color": {"field": "s", "type": "nominal", "scale": {"domain": ["pNGAL = 0,596", "sKrea = 0,539", "pCalpro = 0,584"], "range": ["#ff0000", "#0000ff", "#00ff00"]}, "legend": {"title": null}},
       "order": {"value": null}
     }},
    {"data": {"values": [{}]},
     "mark": {"type": "rule", "strokeDash": [8, 6], "strokeWidth": 2, "color": "black"},
     "encoding": {"x": {"datum": -0.04, "type": "quantitative"}, "y": {"datum": -0.04, "type": "quantitative"}, "x2": {"datum": 1.04}, "y2": {"datum": 1.04}}}
  ]
},
{
  "title": "Tod-zensurierter Transplantatverlust",
  "width": 487, "height": 230,
  "layer": [
    {"data": {"name": "tz5"},
     "mark": {"type": "line", "strokeWidth": 4},
     "encoding": {
       "x": {"field": "x", "type": "quantitative", "scale": {"domain": [-0.04, 1.04], "nice": false, "zero": false}, "axis": {"title": "1 − Spezifität", "values": [0, 0.2, 0.4, 0.6, 0.8, 1], "labelExpr": "datum.value == 0 ? '0' : replace(format(datum.value, '.1f'), '.', ',')"}},
       "y": {"field": "y", "type": "quantitative", "scale": {"domain": [-0.04, 1.04], "nice": false, "zero": false}, "axis": {"title": "Sensitivität", "values": [0, 0.2, 0.4, 0.6, 0.8, 1], "labelExpr": "datum.value == 0 ? '0' : (datum.value == 0.4 || datum.value == 0.8) ? replace(format(datum.value, '.1f'), '.', ',') : ''"}},
       "color": {"field": "s", "type": "nominal", "scale": {"domain": ["pNGAL = 0,795", "sKrea = 0,850", "pCalpro = 0,607"], "range": ["#ff0000", "#0000ff", "#00ff00"]}, "legend": {"title": null}},
       "order": {"value": null}
     }},
    {"data": {"values": [{}]},
     "mark": {"type": "rule", "strokeDash": [8, 6], "strokeWidth": 2, "color": "black"},
     "encoding": {"x": {"datum": -0.04, "type": "quantitative"}, "y": {"datum": -0.04, "type": "quantitative"}, "x2": {"datum": 1.04}, "y2": {"datum": 1.04}}}
  ]
}
]
}
